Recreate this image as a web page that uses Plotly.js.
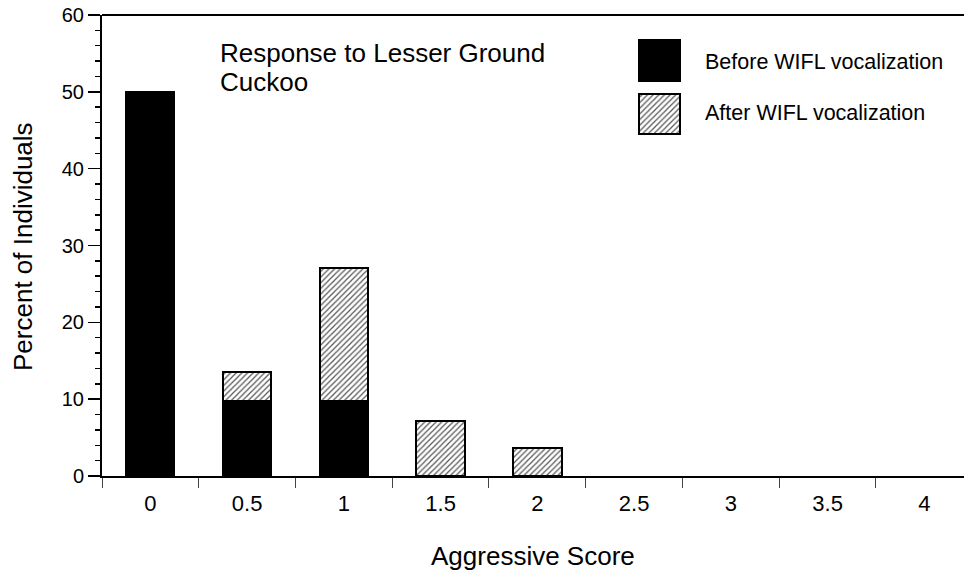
<!DOCTYPE html>
<html>
<head>
<meta charset="utf-8">
<script src="https://cdn.plot.ly/plotly-3.0.1.min.js"></script>
<style>html,body{margin:0;padding:0;background:#fff;}#chart{width:964px;height:573px;}</style>
</head>
<body>
<div id="chart"></div>
<script>
// Data
var categories = ['0', '0.5', '1', '1.5', '2', '2.5', '3', '3.5', '4'];
var beforeValues = [50, 9.7, 9.7, 0, 0, 0, 0, 0, 0];
var afterValues = [0, 3.9, 17.4, 7.1, 3.6, 0, 0, 0, 0];
var seriesNames = ['Before WIFL vocalization', 'After WIFL vocalization'];
var yTickValues = [0, 10, 20, 30, 40, 50, 60];
var chartTitleLines = ['Response to Lesser Ground', 'Cuckoo'];
var xTitle = 'Aggressive Score';
var yTitle = 'Percent of Individuals';

var FONT = '"Liberation Sans", Arial, sans-serif';
var hatch = {shape: '/', size: 4, solidity: 0.3, fgcolor: '#555', bgcolor: '#ffffff'};

// zero-height segments are not drawn
function nz(arr) { return arr.map(function (v) { return v === 0 ? null : v; }); }

var traces = [
  {type: 'bar', x: categories, y: nz(beforeValues), name: seriesNames[0], width: 0.5,
   marker: {color: '#000', line: {color: '#000', width: 1.5}}, showlegend: false, hoverinfo: 'skip'},
  {type: 'bar', x: categories, y: nz(afterValues), name: seriesNames[1], width: 0.5,
   marker: {color: '#fff', pattern: hatch, line: {color: '#000', width: 2}}, showlegend: false, hoverinfo: 'skip'},
  // legend swatches
  {type: 'bar', x: [0], y: [1], width: 1, xaxis: 'x2', yaxis: 'y2',
   marker: {color: '#000', line: {color: '#000', width: 1.5}}, showlegend: false, hoverinfo: 'skip'},
  {type: 'bar', x: [0], y: [1], width: 1, xaxis: 'x2', yaxis: 'y3',
   marker: {color: '#fff', pattern: hatch, line: {color: '#000', width: 2}}, showlegend: false, hoverinfo: 'skip'}
];

function px(X) { return (X - 102) / 862; }
function py(Y) { return (476 - Y) / 461; }

var layout = {
  width: 964, height: 573,
  margin: {l: 102, r: 0, t: 15, b: 97},
  paper_bgcolor: '#fff', plot_bgcolor: '#fff',
  barmode: 'stack',
  font: {family: FONT, color: '#000'},
  xaxis: {
    type: 'category', categoryorder: 'array', categoryarray: categories,
    range: [-0.5, 8.41], tickson: 'boundaries',
    ticks: 'outside', ticklen: 10, tickwidth: 1, tickcolor: '#444',
    ticklabelstandoff: 7,
    showline: true, linewidth: 2, linecolor: '#000', showgrid: false, zeroline: false,
    tickfont: {family: FONT, size: 22, color: '#000'}, fixedrange: true
  },
  yaxis: {
    range: [0, 60], tickvals: yTickValues,
    ticks: 'outside', ticklen: 12, tickwidth: 1.5, tickcolor: '#000',
    minor: {dtick: 2, ticks: 'outside', ticklen: 5, tickwidth: 1.5, tickcolor: '#000', showgrid: false},
    showline: true, linewidth: 2, linecolor: '#000', showgrid: false, zeroline: false,
    tickfont: {family: FONT, size: 20, color: '#000'}, fixedrange: true
  },
  xaxis2: {domain: [px(638), px(681)], range: [-0.52, 0.52], visible: false, anchor: 'y2', fixedrange: true},
  yaxis2: {domain: [py(82), py(39)], range: [-0.02, 1.02], visible: false, anchor: 'x2', fixedrange: true},
  yaxis3: {domain: [py(135), py(93)], range: [-0.02, 1.02], visible: false, anchor: 'x2', fixedrange: true},
  shapes: [
    {type: 'line', xref: 'paper', yref: 'paper', x0: 0, x1: 1, y0: 1, y1: 1, line: {color: '#000', width: 2}}
  ],
  annotations: [
    {text: chartTitleLines[0], xref: 'paper', yref: 'paper', x: px(218), y: py(52.5), xanchor: 'left', yanchor: 'middle',
     align: 'left', showarrow: false, font: {family: FONT, size: 26, color: '#000'}},
    {text: chartTitleLines[1], xref: 'paper', yref: 'paper', x: px(218), y: py(82.5), xanchor: 'left', yanchor: 'middle',
     align: 'left', showarrow: false, font: {family: FONT, size: 26, color: '#000'}},
    {text: seriesNames[0], xref: 'paper', yref: 'paper', x: px(703), y: py(62), xanchor: 'left', yanchor: 'middle',
     showarrow: false, font: {family: FONT, size: 21.5, color: '#000'}},
    {text: seriesNames[1], xref: 'paper', yref: 'paper', x: px(703), y: py(113), xanchor: 'left', yanchor: 'middle',
     showarrow: false, font: {family: FONT, size: 21.5, color: '#000'}},
    {text: xTitle, xref: 'paper', yref: 'paper', x: px(533), y: py(556), xanchor: 'center', yanchor: 'middle',
     showarrow: false, font: {family: FONT, size: 26, color: '#000'}},
    {text: yTitle, xref: 'paper', yref: 'paper', x: px(23), y: py(247), xanchor: 'center', yanchor: 'middle',
     textangle: -90, showarrow: false, font: {family: FONT, size: 26, color: '#000'}}
  ]
};

Plotly.newPlot('chart', traces, layout, {displayModeBar: false, staticPlot: true});
</script>
</body>
</html>
